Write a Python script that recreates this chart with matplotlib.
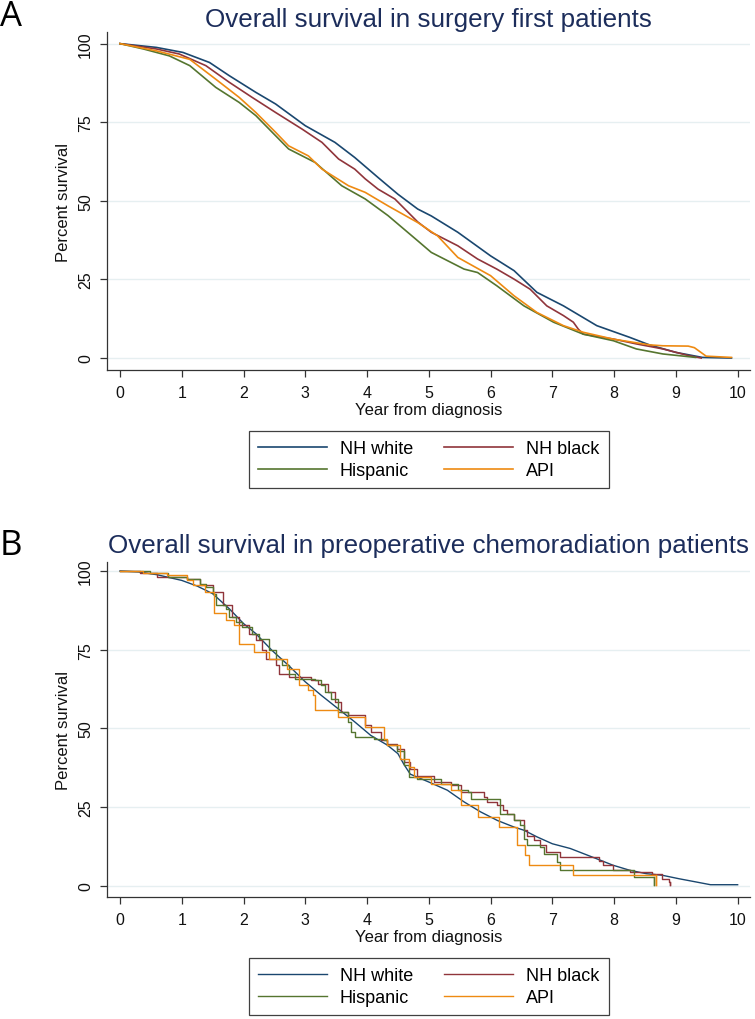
import matplotlib.pyplot as plt

plt.rcParams['font.family'] = ['Liberation Sans', 'DejaVu Sans']

groups = ['NH white', 'NH black', 'Hispanic', 'API']
colors = ['#1a476f', '#90353b', '#55752f', '#ee8a12']

# Panel A - surgery first (percent survival)
a_white_t = [0, 0.59, 1.02, 1.45, 1.77, 2.2, 2.52, 3.0, 3.48, 3.8, 4.18, 4.5, 4.82, 5.04,
             5.47, 6.0, 6.38, 6.75, 7.18, 7.72, 8.25, 8.57, 9.0, 9.43, 9.9]
a_white_s = [100, 98.8, 97.2, 94, 89.8, 84.5, 80.8, 73.9, 68.6, 63.8, 57.4, 52.1, 47.4, 45.2,
             40, 32.5, 27.8, 20.9, 16.6, 10.3, 6.6, 4.2, 1.8, 0.2, 0]
a_black_t = [0, 0.59, 0.96, 1.39, 1.77, 2.14, 2.52, 2.95, 3.27, 3.54, 3.8, 3.97, 4.18, 4.45,
             4.82, 5.04, 5.47, 5.79, 6.1, 6.38, 6.64, 6.91, 7.18, 7.34, 7.42, 7.5, 8.0, 8.36,
             8.79, 9.2, 9.41]
a_black_s = [100, 98.3, 96.7, 93, 87.7, 82.9, 78.1, 72.8, 68.6, 63.3, 60.1, 57, 53.7, 50.6,
             43.3, 40, 35.7, 31.5, 28.3, 25.1, 21.9, 16.6, 13.5, 11.4, 9.2, 7.6, 6, 4.5,
             2.9, 0.8, 0]
a_hisp_t = [0, 0.38, 0.8, 1.13, 1.55, 1.93, 2.2, 2.52, 2.73, 3.16, 3.59, 3.97, 4.34, 4.82,
            5.04, 5.57, 5.79, 6.1, 6.54, 7.02, 7.5, 7.99, 8.36, 8.79, 9.32]
a_hisp_s = [100, 98.3, 96.1, 93, 86.1, 81.3, 77.1, 70.7, 66.5, 62.2, 54.8, 50.6, 45.3, 37.3,
            33.6, 28.3, 27.2, 23, 16.6, 11.4, 7.6, 5.5, 2.9, 1.3, 0.2]
a_api_t = [0, 0.59, 1.13, 1.55, 1.93, 2.2, 2.52, 2.73, 3.05, 3.27, 3.7, 3.97, 4.34, 4.82,
           5.14, 5.47, 6.0, 6.38, 6.75, 7.18, 7.5, 7.99, 8.57, 8.79, 9.2, 9.3, 9.49, 9.9]
a_api_s = [100, 97.7, 95, 88.7, 82.9, 78.1, 71.8, 67.5, 64.3, 60.1, 54.8, 52.7, 48.4, 43.1,
           38.9, 32, 26.2, 19.8, 14.5, 10.3, 8.2, 6, 4.2, 3.9, 3.8, 3.3, 0.6, 0.2]

# Panel B - preoperative chemoradiation
b_white_t = [0, 0.3, 0.6, 1.0, 1.25, 1.5, 1.77, 2.0, 2.2, 2.46, 2.73, 3.0, 3.26, 3.53, 3.8,
             4.06, 4.33, 4.5, 4.6, 4.7, 5.0, 5.3, 5.57, 5.84, 6.11, 6.38, 6.54, 6.75, 7.0,
             7.29, 7.5, 7.71, 7.98, 8.25, 8.52, 8.78, 9.05, 9.32, 9.56, 10.0]
b_white_s = [100, 99.7, 98.8, 97, 95.2, 92.8, 88, 83.3, 80.1, 74.8, 70, 64.8, 60.5, 56.3, 52.1,
             47.8, 44.7, 42, 38.5, 35.5, 33, 30.4, 26.7, 23.5, 20.8, 18.7, 17.7, 15.6, 13.4,
             11.9, 10.3, 8.7, 6.6, 5, 3.9, 3.4, 2.3, 1.3, 0.4, 0.4]
b_black_t = [0, 0.33, 0.6, 1.08, 1.29, 1.5, 1.66, 1.82, 1.93, 2.09, 2.2, 2.3, 2.36, 2.52, 2.57,
             2.73, 3.1, 3.21, 3.37, 3.48, 3.58, 3.69, 3.96, 4.06, 4.22, 4.33, 4.49, 4.6, 4.7,
             4.81, 5.09, 5.36, 5.52, 5.9, 5.95, 6.11, 6.2, 6.27, 6.38, 6.54, 6.59, 6.7, 6.8,
             6.9, 7.13, 7.76, 7.82, 7.98, 8.25, 8.62, 8.78, 8.89, 8.9]
b_black_s = [100, 99.2, 98, 97.6, 95.4, 93.3, 89.1, 85.4, 82.8, 80.1, 78, 74.8, 72.2, 70, 67.4,
             66.3, 65.3, 64.2, 61.6, 58.4, 55.2, 54.2, 51, 48.9, 46.2, 45.2, 43.6, 39.4, 37.2,
             35, 33, 32, 29.8, 28.3, 26.7, 25.6, 24, 23, 20.8, 17.7, 16, 14.5, 12.9,
             10.8, 9.2, 8, 6.6, 5, 4.4, 3.9, 2.3, 1.3, 0.3]
b_hisp_t = [0, 0.49, 0.78, 1.08, 1.29, 1.4, 1.5, 1.56, 1.72, 1.77, 1.88, 1.98, 2.14, 2.25, 2.41,
            2.52, 2.62, 2.73, 2.84, 3.16, 3.26, 3.32, 3.42, 3.53, 3.69, 3.74, 3.8, 4.12, 4.28,
            4.33, 4.49, 4.6, 4.68, 4.81, 5.2, 5.47, 5.63, 5.68, 6.16, 6.38, 6.48, 6.54, 6.59,
            6.8, 6.86, 7.07, 7.12, 8.33, 8.65]
b_hisp_s = [100, 99.2, 98, 97.6, 96, 94.9, 92.8, 89.1, 88, 85.4, 83.8, 82.2, 80.1, 78.5, 74.8,
            72.2, 70, 67.4, 65.8, 65.3, 63.7, 61.6, 59.5, 55.2, 52, 48.9, 47.3, 46.8, 46.2,
            44.7, 43, 38.3, 34.6, 34, 32.5, 30.4, 29.8, 27.7, 23, 20.8, 19.3, 15, 12.9,
            12.4, 10.3, 7.6, 5, 2.9, 0.4]
b_api_t = [0, 0.38, 0.76, 1.08, 1.18, 1.37, 1.53, 1.72, 1.85, 1.93, 2.17, 2.41, 2.7, 2.9,
           3.05, 3.12, 3.16, 3.53, 3.96, 4.28, 4.33, 4.54, 4.68, 4.76, 5.04, 5.36, 5.52, 5.79,
           6.13, 6.43, 6.56, 6.62, 7.34, 8.68]
b_api_s = [100, 99.2, 98.6, 97, 95.4, 93.3, 86.5, 84.3, 82.8, 76.9, 74.3, 72.2, 69, 63.7,
           62.1, 60.5, 55.8, 53.6, 50.4, 46.8, 44.7, 40.4, 37.8, 34.6, 32.5, 30.4, 25.6, 21.9,
           18.7, 12.9, 9.7, 6.6, 3.4, 0.3]

yticks = [0, 25, 50, 75, 100]
xticks = list(range(0, 11))

fig = plt.figure(figsize=(7.55, 10.2), dpi=100)
axA = fig.add_axes([107 / 755, 1 - 371 / 1020, 643 / 755, 338 / 1020])
axB = fig.add_axes([107 / 755, 1 - 898 / 1020, 643 / 755, 335.5 / 1020])

a_series = [(a_white_t, a_white_s), (a_black_t, a_black_s), (a_hisp_t, a_hisp_s), (a_api_t, a_api_s)]
b_series = [(b_white_t, b_white_s), (b_black_t, b_black_s), (b_hisp_t, b_hisp_s), (b_api_t, b_api_s)]

linesA = []
for (t, s), c, g in zip(a_series, colors, groups):
    ln, = axA.plot(t, s, color=c, lw=1.2, label=g)
    linesA.append(ln)

linesB = []
for i, ((t, s), c, g) in enumerate(zip(b_series, colors, groups)):
    if i == 0:
        ln, = axB.plot(t, s, color=c, lw=1.0, label=g)
    else:
        ln, = axB.plot(t, s, color=c, lw=1.0, label=g, drawstyle='steps-post')
        # final drop to zero
        axB.plot([t[-1], t[-1]], [s[-2], s[-1]], color=c, lw=1.0)
    linesB.append(ln)

# Format both panels
for ax, ylo, yhi in [(axA, -3.8, 103.7), (axB, -3.5, 103)]:
    ax.set_xlim(-0.21, 10.2)
    ax.set_ylim(ylo, yhi)
    ax.set_xticks(xticks)
    ax.set_yticks(yticks)
    ax.yaxis.grid(True, color='#e6eff1', lw=1.0)
    ax.set_axisbelow(True)
    for side in ['top', 'right']:
        ax.spines[side].set_visible(False)
    for side in ['left', 'bottom']:
        ax.spines[side].set_color('#333333')
        ax.spines[side].set_linewidth(0.9)
    ax.tick_params(axis='both', length=5, width=0.9, color='#333333', labelsize=11.5,
                   labelcolor='#111111')
    ax.tick_params(axis='x', pad=6)
    ax.tick_params(axis='y', pad=5)
    for lab in ax.get_yticklabels():
        lab.set_rotation(90)
        lab.set_va('center')
    ax.set_xlabel('Year from diagnosis', fontsize=12, labelpad=1, color='#111111')
    ax.set_ylabel('Percent survival', fontsize=12, labelpad=5, color='#111111')

axA.set_title('Overall survival in surgery first patients', fontsize=18.7, color='#1c2d5b', pad=4)
axB.set_title('Overall survival in preoperative chemoradiation patients', fontsize=18.7,
              color='#1c2d5b', pad=7)

# legend fills row by row in the original: white, black / hispanic, api
order = [0, 2, 1, 3]
leg_kw = dict(loc='upper left', ncol=2, fontsize=13, handlelength=3.8, handletextpad=0.72,
              columnspacing=1.75, borderpad=0.5, labelspacing=0.3, fancybox=False,
              framealpha=1, edgecolor='#404040', borderaxespad=0)
legA = fig.legend(handles=[linesA[i] for i in order], bbox_to_anchor=(249 / 755, 1 - 432 / 1020), **leg_kw)
legB = fig.legend(handles=[linesB[i] for i in order], bbox_to_anchor=(249 / 755, 1 - 959 / 1020), **leg_kw)
for leg in [legA, legB]:
    leg.get_frame().set_linewidth(0.9)

fig.text(0.0, 1 - 17 / 1020, 'A', fontsize=25, family=['Open Sans', 'DejaVu Sans'], va='center')
fig.text(0.0, 1 - 546 / 1020, 'B', fontsize=25, family=['Open Sans', 'DejaVu Sans'], va='center')

fig.savefig('out.png', dpi=100)
